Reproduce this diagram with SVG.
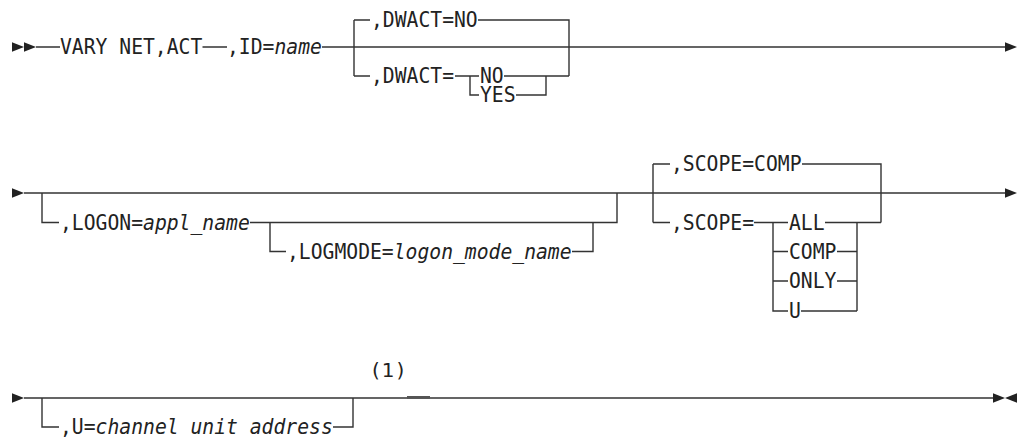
<svg xmlns="http://www.w3.org/2000/svg" xmlns:xlink="http://www.w3.org/1999/xlink" width="1019" height="439" viewBox="0 0 1019 439">
<style>
.t{font-family:"DejaVu Sans Mono","Liberation Mono",monospace;font-size:21px;fill:#222}
.i{font-style:italic}
.fn{font-family:"DejaVu Sans","Liberation Sans",sans-serif;font-size:20px;fill:#222;letter-spacing:2px}
.ln{fill:none;stroke:#333;stroke-width:1.4}
.ar{fill:#222}
</style>
<defs>
<path id="rt" d="M0,-4.7 L12,0 L0,4.7 Z"/>
<path id="lt" d="M0,-4.7 L-12,0 L0,4.7 Z"/>
</defs>
<rect width="1019" height="439" fill="#fff"/>
<g id="connectors">
<path class="ln" d="M36,47 H60 M202.5,47 H227 M322,47 H1005"/>
<path class="ln" d="M354,20 V76 M354,20 H370 M478,20 H569 V76 M354,76 H370 M455,76 H470 V95 H479 M470,76 H479 M504,76 H546 M516,95 H546 V76 M546,76 H569"/>
<path class="ln" d="M24,193 H1005"/>
<path class="ln" d="M42,193 V222.5 H59 M250,222.5 H617 V193 M270,222.5 V251.5 H286 M572,251.5 H593 V222.5"/>
<path class="ln" d="M653,164 V222.5 M653,164 H670 M802,164 H881 V222.5 M653,222.5 H670 M754,222.5 H788 M773,222.5 V311 H788 M773,251.5 H788 M773,281 H788 M825,222.5 H881 M837,251.5 H857 M837,281 H857 M801,311 H857 M857,222.5 V311"/>
<path class="ln" d="M24,398 H993 M42,398 V427 H59 M333,427 H353 V398"/>
<rect x="407" y="396" width="23" height="2.8" fill="#555"/>
<use href="#rt" x="12" y="47" class="ar"/>
<use href="#rt" x="24" y="47" class="ar"/>
<use href="#rt" x="1005" y="47" class="ar"/>
<use href="#rt" x="12" y="193" class="ar"/>
<use href="#rt" x="1005" y="193" class="ar"/>
<use href="#rt" x="12" y="398" class="ar"/>
<use href="#rt" x="993" y="398" class="ar"/>
<use href="#lt" x="1017" y="398" class="ar"/>
</g>
<g id="cmd"><text class="t" x="60" y="54" textLength="142.3" lengthAdjust="spacingAndGlyphs">VARY NET,ACT</text></g>
<g id="id"><text class="t" x="227" y="54" textLength="94.9" lengthAdjust="spacingAndGlyphs">,ID=<tspan class="i">name</tspan></text></g>
<g id="dwact-default"><text class="t" x="371" y="27" textLength="106.7" lengthAdjust="spacingAndGlyphs">,DWACT=NO</text></g>
<g id="dwact"><text class="t" x="371" y="83" textLength="83" lengthAdjust="spacingAndGlyphs">,DWACT=</text></g>
<g id="dwact-no"><text class="t" x="480" y="83" textLength="23.7" lengthAdjust="spacingAndGlyphs">NO</text></g>
<g id="dwact-yes"><text class="t" x="480" y="102" textLength="35.6" lengthAdjust="spacingAndGlyphs">YES</text></g>
<g id="logon"><text class="t" x="60" y="229.5" textLength="189.8" lengthAdjust="spacingAndGlyphs">,LOGON=<tspan class="i">appl_name</tspan></text></g>
<g id="logmode"><text class="t" x="287" y="258.5" textLength="284.6" lengthAdjust="spacingAndGlyphs">,LOGMODE=<tspan class="i">logon_mode_name</tspan></text></g>
<g id="scope-default"><text class="t" x="671" y="171" textLength="130.5" lengthAdjust="spacingAndGlyphs">,SCOPE=COMP</text></g>
<g id="scope"><text class="t" x="671" y="229.5" textLength="83" lengthAdjust="spacingAndGlyphs">,SCOPE=</text></g>
<g id="scope-all"><text class="t" x="789" y="229.5" textLength="35.6" lengthAdjust="spacingAndGlyphs">ALL</text></g>
<g id="scope-comp"><text class="t" x="789" y="258.5" textLength="47.4" lengthAdjust="spacingAndGlyphs">COMP</text></g>
<g id="scope-only"><text class="t" x="789" y="288" textLength="47.4" lengthAdjust="spacingAndGlyphs">ONLY</text></g>
<g id="scope-u"><text class="t" x="789" y="318" textLength="11.9" lengthAdjust="spacingAndGlyphs">U</text></g>
<g id="unit"><text class="t" x="60" y="434" textLength="272.8" lengthAdjust="spacingAndGlyphs">,U=<tspan class="i">channel unit address</tspan></text></g>
<g id="note"><text class="fn" x="372" y="377">(1)</text></g>
</svg>
